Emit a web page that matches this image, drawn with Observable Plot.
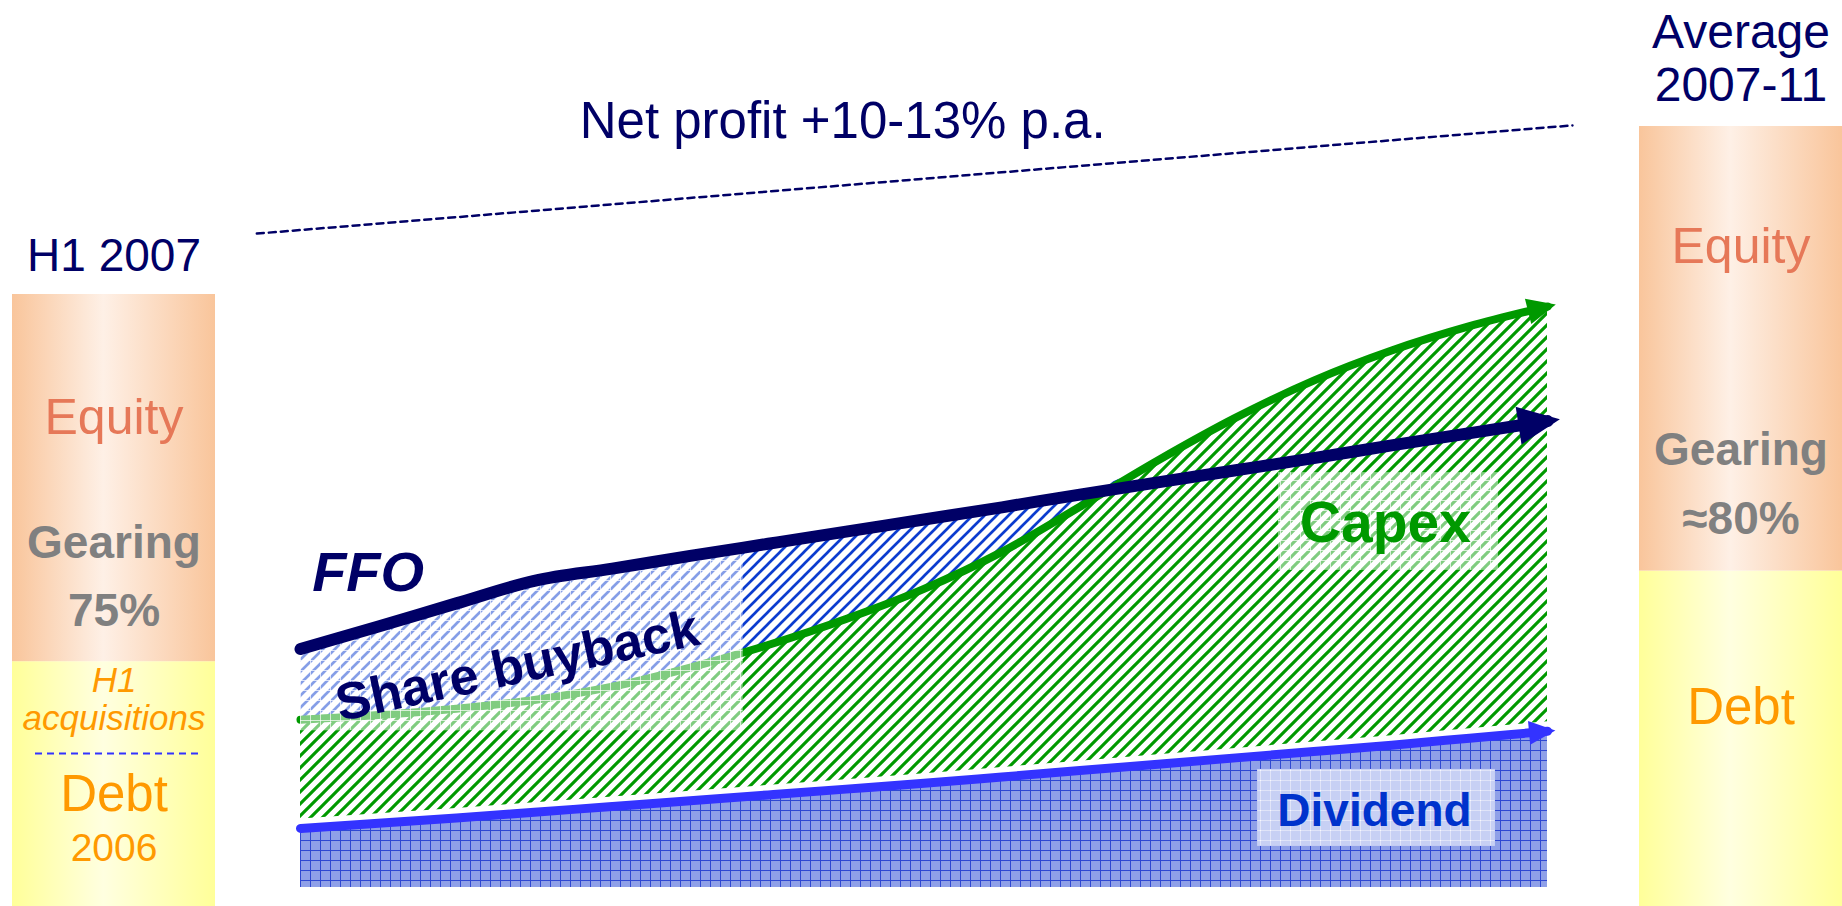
<!DOCTYPE html>
<html>
<head>
<meta charset="utf-8">
<script src="https://cdn.jsdelivr.net/npm/d3@7"></script>
<script src="https://cdn.jsdelivr.net/npm/@observablehq/plot@0.6"></script>
<style>
  html, body { margin: 0; padding: 0; background: white; }
  #stage { position: relative; width: 1842px; height: 906px; overflow: hidden; background: white; font-family: "Liberation Sans", Arial, sans-serif; }
  #stage svg { position: absolute; max-width: none !important; }
</style>
</head>
<body>
<svg width="0" height="0" style="position:absolute">
  <defs>
    <linearGradient id="gradEquity" x1="0" x2="1" y1="0" y2="0">
      <stop offset="0" stop-color="#F9C59B"/>
      <stop offset="0.45" stop-color="#FEF0E6"/>
      <stop offset="1" stop-color="#F9C59B"/>
    </linearGradient>
    <linearGradient id="gradDebt" x1="0" x2="1" y1="0" y2="0">
      <stop offset="0" stop-color="#FFFF99"/>
      <stop offset="0.45" stop-color="#FFFFE0"/>
      <stop offset="1" stop-color="#FFFF99"/>
    </linearGradient>
    <pattern id="hatchGreen" width="12" height="12" patternUnits="userSpaceOnUse">
      <rect width="12" height="12" fill="white"/>
      <path d="M-3,3 L3,-3 M0,12 L12,0 M9,15 L15,9" stroke="#009900" stroke-width="3.1"/>
    </pattern>
    <pattern id="hatchBlue" width="12" height="12" patternUnits="userSpaceOnUse">
      <rect width="12" height="12" fill="white"/>
      <path d="M-3,3 L3,-3 M0,12 L12,0 M9,15 L15,9" stroke="#0B3CCF" stroke-width="2.7"/>
    </pattern>
    <pattern id="gridBlue" width="10" height="10" patternUnits="userSpaceOnUse">
      <rect width="10" height="10" fill="#8FA0E8"/>
      <path d="M0,0.5 H10 M0.5,0 V10" stroke="#2F48D2" stroke-width="1"/>
    </pattern>
    <pattern id="boxWhite" width="10" height="10" patternUnits="userSpaceOnUse">
      <rect width="10" height="10" fill="white" fill-opacity="0.5"/>
      <path d="M0,0.5 H10 M0.5,0 V10" stroke="white" stroke-opacity="0.7" stroke-width="1"/>
    </pattern>
  </defs>
</svg>
<div id="stage"></div>
<script>
// ---------------- data ----------------
const quarters = [2007, 2007.25, 2007.5, 2007.75, 2008, 2008.25, 2008.5, 2008.75, 2009,
                  2009.25, 2009.5, 2009.75, 2010, 2010.25, 2010.5, 2010.75, 2011];
const ffo      = [4.12, 4.51, 4.91, 5.30, 5.51, 5.73, 5.94, 6.15, 6.36, 6.57, 6.79, 7.00, 7.21, 7.42, 7.64, 7.85, 8.06];
const capex    = [2.90, 2.98, 3.09, 3.24, 3.47, 3.80, 4.19, 4.64, 5.16, 5.80, 6.58, 7.38, 8.12, 8.76, 9.28, 9.70, 10.04];
const dividend = [1.02, 1.11, 1.20, 1.30, 1.40, 1.50, 1.60, 1.70, 1.80, 1.91, 2.02, 2.13, 2.24, 2.35, 2.46, 2.58, 2.70];

const netProfitYears = [2006.86, 2011.08];
const netProfitTrend = [11.30, 13.17];
const netProfitLabel = "Net profit +10-13% p.a.";

const leftPeriod = "H1 2007";
const leftSegments = ["Debt 2006", "H1 acquisitions", "Equity"];
const leftShares = [25, 15, 60];
const leftGearing = "75%";

const rightPeriod = ["Average", "2007-11"];
const rightSegments = ["Debt", "Equity"];
const rightShares = [43, 57];
const rightGearing = "≈80%";

// ---------------- helpers ----------------
const FONT = '"Liberation Sans", Arial, sans-serif';
const NAVY = "#000066", GREEN = "#009900", BLUE = "#3333FF";
const stage = document.getElementById("stage");

const rows = quarters.map((t, i) => ({t, ffo: ffo[i], capex: capex[i], dividend: dividend[i], top: Math.max(ffo[i], capex[i])}));

const xRange = [300, 1547], yRange = [887, 19];
const xs = d3.scaleLinear([2007, 2011], xRange);
const ys = d3.scaleLinear([0, 15], yRange);
function headAngle(arr) {
  const n = arr.length;
  const dx = xs(quarters[n - 1]) - xs(quarters[n - 2]);
  const dy = ys(arr[n - 1]) - ys(arr[n - 2]);
  return Math.atan2(dy, dx) * 180 / Math.PI;
}
const arrowHead = {
  draw(ctx, size) {
    const r = Math.sqrt(size / Math.PI), L = 2.2 * r, W = r;
    ctx.moveTo(0.3 * L, 0);
    ctx.lineTo(-0.7 * L, -W);
    ctx.lineTo(-0.7 * L, W);
    ctx.closePath();
  }
};
const last = (arr) => [{t: quarters[quarters.length - 1], v: arr[arr.length - 1]}];

// ---------------- main chart ----------------
const main = Plot.plot({
  width: 1842, height: 906,
  marginLeft: 0, marginRight: 0, marginTop: 0, marginBottom: 0,
  x: {domain: [2007, 2011], range: xRange, axis: null},
  y: {domain: [0, 15], range: yRange, axis: null},
  style: {background: "transparent", fontFamily: FONT, overflow: "visible"},
  marks: [
    Plot.areaY(rows, {x: "t", y1: "dividend", y2: "capex", fill: "url(#hatchGreen)", curve: "monotone-x"}),
    Plot.areaY(rows, {x: "t", y1: "capex", y2: "top", fill: "url(#hatchBlue)", curve: "monotone-x"}),
    Plot.line(rows, {x: "t", y: "dividend", stroke: "white", strokeWidth: 10, dy: -5, curve: "monotone-x"}),
    Plot.areaY(rows, {x: "t", y1: 0, y2: "dividend", fill: "url(#gridBlue)", curve: "monotone-x"}),
    Plot.line(rows, {x: "t", y: "dividend", stroke: BLUE, strokeWidth: 9, curve: "monotone-x"}),
    Plot.line(rows, {x: "t", y: "capex", stroke: GREEN, strokeWidth: 8, curve: "monotone-x"}),
    // translucent label boxes
    Plot.rect([{x1: 2007, x2: 2008.42, y1: 2.71, y2: 6.3}], {x1: "x1", x2: "x2", y1: "y1", y2: "y2", fill: "url(#boxWhite)"}),
    Plot.rect([{x1: 2010.137, x2: 2010.843, y1: 5.48, y2: 7.17}], {x1: "x1", x2: "x2", y1: "y1", y2: "y2", fill: "url(#boxWhite)"}),
    Plot.rect([{x1: 2010.07, x2: 2010.833, y1: 0.71, y2: 2.04}], {x1: "x1", x2: "x2", y1: "y1", y2: "y2", fill: "url(#boxWhite)"}),
    Plot.line(rows, {x: "t", y: "ffo", stroke: NAVY, strokeWidth: 12, curve: "monotone-x"}),
    // arrow heads
    Plot.dot(last(capex), {x: "t", y: "v", r: 13, symbol: arrowHead, fill: GREEN, stroke: "none", rotate: headAngle(capex)}),
    Plot.dot(last(ffo), {x: "t", y: "v", r: 19, symbol: arrowHead, fill: NAVY, stroke: "none", rotate: headAngle(ffo)}),
    Plot.dot(last(dividend), {x: "t", y: "v", r: 12, symbol: arrowHead, fill: BLUE, stroke: "none", rotate: headAngle(dividend)}),
    // labels
    Plot.text([{t: 2007.217, v: 5.43, s: "FFO"}], {x: "t", y: "v", text: "s", fontSize: 56, fontWeight: "bold", fontStyle: "italic", fill: NAVY}),
    Plot.text([{t: 2007.696, v: 3.82, s: "Share buyback"}], {x: "t", y: "v", text: "s", fontSize: 52, fontWeight: "bold", fill: NAVY, rotate: -12}),
    Plot.text([{t: 2010.48, v: 6.29, s: "Capex"}], {x: "t", y: "v", text: "s", fontSize: 57, fontWeight: "bold", fill: GREEN}),
    Plot.text([{t: 2010.445, v: 1.32, s: "Dividend"}], {x: "t", y: "v", text: "s", fontSize: 46, fontWeight: "bold", fill: "#0033CC"}),
    // net profit trend
    Plot.line(netProfitYears.map((t, i) => ({t, v: netProfitTrend[i]})), {x: "t", y: "v", stroke: NAVY, strokeWidth: 2.5, strokeDasharray: "7,5"}),
    Plot.text([{t: 2008.739, v: 13.24, s: netProfitLabel}], {x: "t", y: "v", text: "s", fontSize: 51, fill: NAVY})
  ]
});
main.style.left = "0px"; main.style.top = "0px";
stage.appendChild(main);

// ---------------- left capital structure bar ----------------
const leftRows = leftSegments.map((s, i) => ({period: leftPeriod, segment: s, share: leftShares[i],
  fill: s === "Equity" ? "url(#gradEquity)" : "url(#gradDebt)"}));
const left = Plot.plot({
  width: 203, height: 706,
  marginLeft: 0, marginRight: 0, marginTop: 94, marginBottom: 0,
  x: {domain: [leftPeriod], padding: 0, axis: null},
  y: {domain: [0, 100], axis: null},
  color: {type: "identity"},
  style: {background: "transparent", fontFamily: FONT, overflow: "visible"},
  marks: [
    Plot.barY(leftRows, {x: "period", y: "share", fill: "fill"}),
    Plot.ruleY([leftShares[0]], {stroke: BLUE, strokeWidth: 2, strokeDasharray: "7,5", insetLeft: 23, insetRight: 15}),
    Plot.text([{y: 106.2, s: leftPeriod}], {y: "y", text: "s", fontSize: 46, fill: NAVY}),
    Plot.text([{y: 79.9, s: "Equity"}], {y: "y", text: "s", fontSize: 50, fill: "#E67858"}),
    Plot.text([{y: 59.3, s: "Gearing"}, {y: 48.2, s: leftGearing}], {y: "y", text: "s", fontSize: 46, fontWeight: "bold", fill: "#808080"}),
    Plot.text([{y: 36.8, s: "H1"}, {y: 30.6, s: "acquisitions"}], {y: "y", text: "s", fontSize: 35, fontStyle: "italic", fill: "#FF9900"}),
    Plot.text([{y: 18.3, s: "Debt"}], {y: "y", text: "s", fontSize: 51, fill: "#FF9900"}),
    Plot.text([{y: 9.5, s: "2006"}], {y: "y", text: "s", fontSize: 39, fill: "#FF9900"})
  ]
});
left.style.left = "12px"; left.style.top = "200px";
stage.appendChild(left);

// ---------------- right capital structure bar ----------------
const rightRows = rightSegments.map((s, i) => ({period: rightPeriod.join(" "), segment: s, share: rightShares[i],
  fill: s === "Equity" ? "url(#gradEquity)" : "url(#gradDebt)"}));
const right = Plot.plot({
  width: 203, height: 906,
  marginLeft: 0, marginRight: 0, marginTop: 126, marginBottom: 0,
  x: {domain: [rightPeriod.join(" ")], padding: 0, axis: null},
  y: {domain: [0, 100], axis: null},
  color: {type: "identity"},
  style: {background: "transparent", fontFamily: FONT, overflow: "visible"},
  marks: [
    Plot.barY(rightRows, {x: "period", y: "share", fill: "fill"}),
    Plot.text([{y: 112.05, s: rightPeriod[0]}, {y: 105.26, s: rightPeriod[1]}], {y: "y", text: "s", fontSize: 48, fill: NAVY}),
    Plot.text([{y: 84.5, s: "Equity"}], {y: "y", text: "s", fontSize: 50, fill: "#E67858"}),
    Plot.text([{y: 58.5, s: "Gearing"}, {y: 49.6, s: rightGearing}], {y: "y", text: "s", fontSize: 46, fontWeight: "bold", fill: "#808080"}),
    Plot.text([{y: 25.5, s: "Debt"}], {y: "y", text: "s", fontSize: 51, fill: "#FF9900"})
  ]
});
right.style.left = "1639px"; right.style.top = "0px";
stage.appendChild(right);
</script>
</body>
</html>
